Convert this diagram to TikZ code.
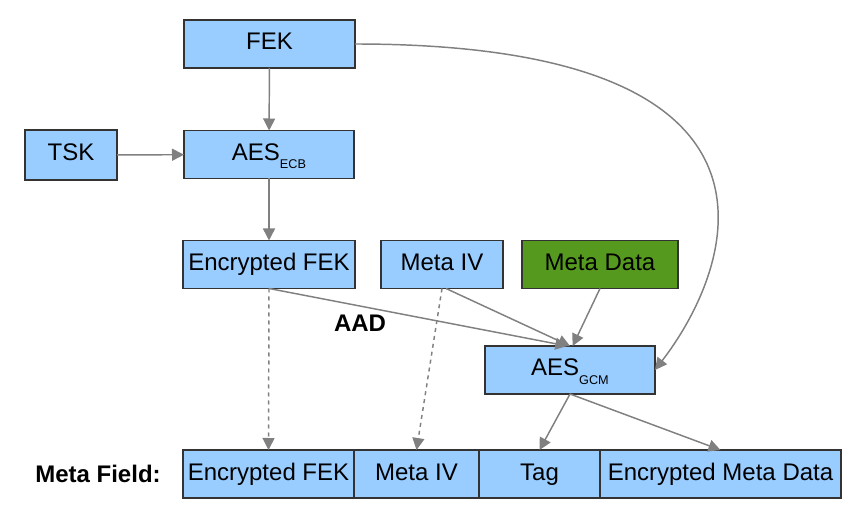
\documentclass[tikz,border=0pt]{standalone}
\usepackage{fontspec}
\setmainfont{Liberation Sans}
\usetikzlibrary{arrows.meta,positioning}
\definecolor{boxblue}{HTML}{99CCFF}
\definecolor{boxgreen}{HTML}{559A1F}
\definecolor{edgegray}{HTML}{333333}
\definecolor{arrowgray}{HTML}{808080}
\newcommand{\aessub}[1]{AES\raisebox{-6pt}{\fontsize{9.5}{10}\selectfont #1}}
\begin{document}
\begin{tikzpicture}[x=0.75pt, y=-0.75pt,
  every node/.style={font=\fontsize{18}{21}\selectfont},
  blk/.style={draw=edgegray, line width=1.3pt, fill=boxblue, inner sep=0pt, outer sep=0pt, minimum height=36pt, text height=13pt, text depth=4pt},
  arr/.style={draw=arrowgray, line width=1.1pt, -{Triangle[length=9pt, width=9pt]}},
  dsh/.style={arr, dash pattern=on 3pt off 3pt}]
  \useasboundingbox (0,0) rectangle (867,516);
  \node[blk, minimum width=128pt] (fek) at (269.5,44) {FEK};
  \node[blk, minimum width=69pt, minimum height=37.5pt] (tsk) at (71,155) {TSK};
  \node[blk, minimum width=127.5pt] (ecb) at (269,154.5) {\aessub{ECB}};
  \node[blk, minimum width=129pt] (efek) at (269,264.5) {Encrypted FEK};
  \node[blk, minimum width=91.5pt] (miv) at (442,264.5) {Meta IV};
  \node[blk, fill=boxgreen, minimum width=117pt] (mdata) at (600,264.5) {Meta Data};
  \node[blk, minimum width=127.5pt] (gcm) at (570,370) {\aessub{GCM}};
  \node[font=\fontsize{18}{21}\selectfont\bfseries] (aad) at (360,323) {AAD};
  \node[font=\fontsize{18}{21}\selectfont\bfseries] (mfield) at (98,474) {Meta Field:};
  \node[blk, minimum width=128.25pt, anchor=west] (fefek) at (183,474) {Encrypted FEK};
  \node[blk, minimum width=93.75pt, right=0pt of fefek] (fmiv) {Meta IV};
  \node[blk, minimum width=90.75pt, right=0pt of fmiv] (ftag) {Tag};
  \node[blk, minimum width=180.75pt, right=0pt of ftag] (fmdata) {Encrypted Meta Data};
  \draw[arr] (fek) -- (ecb);
  \draw[arr] (tsk) -- (ecb);
  \draw[arr] (ecb) -- (efek);
  \draw[arr] (efek.south) -- ([xshift=-2pt]gcm.north);
  \draw[arr] ([xshift=3pt]miv.south) -- (gcm.north);
  \draw[arr] (mdata.south) -- ([xshift=2pt]gcm.north);
  \draw[arr] (fek.east) .. controls +(460,0) and +(80,-104) .. (gcm.east);
  \draw[dsh] (efek.south) -- (fefek.north);
  \draw[dsh] (miv.south) -- (fmiv.north);
  \draw[arr] (gcm.south) -- (ftag.north);
  \draw[arr] (gcm.south) -- (fmdata.north);
\end{tikzpicture}
\end{document}
